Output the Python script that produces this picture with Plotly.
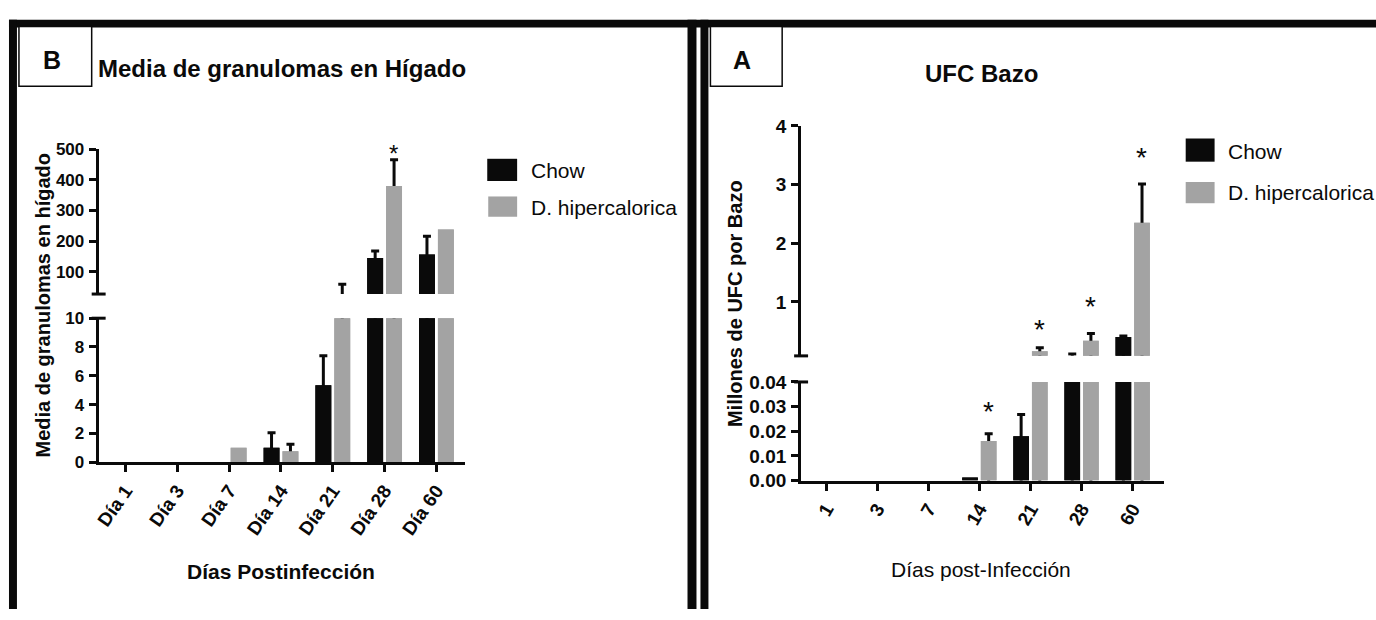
import plotly.graph_objects as go

W, H = 1376, 620


def px(x):
    return x / W


def py(y):
    return 1 - y / H


# ---------------- data ----------------
# Panel B: Media de granulomas en Hígado
liver_days = ["Día 1", "Día 3", "Día 7", "Día 14", "Día 21", "Día 28", "Día 60"]
liver_chow = [0, 0, 0, 1.0, 5.35, 145, 157]
liver_chow_err = [0, 0, 0, 1.05, 2.05, 23, 59]
liver_hiper = [0, 0, 1.0, 0.75, 20, 380, 238]
liver_hiper_err = [0, 0, 0, 0.5, 40, 85, 0]
liver_star_days = ["Día 28"]
liver_star_y = [500]

# Panel A: UFC Bazo (millones)
spleen_days = ["1", "3", "7", "14", "21", "28", "60"]
spleen_chow = [0, 0, 0, 0.0012, 0.018, 0.06, 0.40]
spleen_chow_err = [0, 0, 0, 0, 0.0088, 0.05, 0.02]
spleen_hiper = [0, 0, 0, 0.016, 0.16, 0.34, 2.35]
spleen_hiper_err = [0, 0, 0, 0.003, 0.06, 0.12, 0.66]
spleen_star_days = ["14", "21", "28", "60"]
spleen_star_y = [0.030, 0.62, 1.0, 3.55]

series_names = ["Chow", "D. hipercalorica"]

# ---------------- style ----------------
BLACK = "#0a0a0a"
GRAY = "#a3a3a3"
SANS = "Liberation Sans, Arial, sans-serif"

fig = go.Figure()


def error_traces(x, vals, errs, color, group, xa, yas):
    # one-sided (upward) error bars; the lower end and empty entries are pushed
    # far below the axis range so they are clipped away
    below = 2 * max(v + e for v, e in zip(vals, errs))
    plus = [e if e > 0 else -(v + below) for v, e in zip(vals, errs)]
    minus = [v + below for v in vals]
    for ya in yas:
        fig.add_trace(go.Bar(
            x=x, y=vals, xaxis=xa, yaxis=ya, offsetgroup=group,
            marker=dict(color=color, line=dict(width=0)),
            error_y=dict(type="data", symmetric=False, array=plus, arrayminus=minus,
                         color=BLACK, thickness=3, width=4),
            hoverinfo="skip", showlegend=False))


def cover_traces(x, vals, color, group, xa, yas, name):
    for ya in yas:
        fig.add_trace(go.Bar(
            x=x, y=vals, xaxis=xa, yaxis=ya, offsetgroup=group, name=name,
            marker=dict(color=color, line=dict(width=0)),
            hoverinfo="skip", showlegend=False))


error_traces(liver_days, liver_chow, liver_chow_err, BLACK, "c", "x", ["y", "y2"])
error_traces(liver_days, liver_hiper, liver_hiper_err, GRAY, "h", "x", ["y", "y2"])
error_traces(spleen_days, spleen_chow, spleen_chow_err, BLACK, "c", "x2", ["y3", "y4"])
error_traces(spleen_days, spleen_hiper, spleen_hiper_err, GRAY, "h", "x2", ["y3", "y4"])
cover_traces(liver_days, liver_chow, BLACK, "c", "x", ["y", "y2"], series_names[0])
cover_traces(liver_days, liver_hiper, GRAY, "h", "x", ["y", "y2"], series_names[1])
cover_traces(spleen_days, spleen_chow, BLACK, "c", "x2", ["y3", "y4"], series_names[0])
cover_traces(spleen_days, spleen_hiper, GRAY, "h", "x2", ["y3", "y4"], series_names[1])

axis_common = dict(showline=True, linecolor=BLACK, linewidth=3, ticks="outside",
                   ticklen=7, tickwidth=2.5, tickcolor=BLACK, showgrid=False,
                   zeroline=False, fixedrange=True)
tickfont_y = dict(family=SANS, size=17, color=BLACK, weight="bold")
tickfont_x = dict(family=SANS, size=19, color=BLACK, weight="bold")
tickfont_r = dict(family=SANS, size=19, color=BLACK, weight="bold")

# left panel geometry (pixels)
L_X0, L_X1, L_C0, L_STEP = 94, 462, 121, 52
L_LOW = (468, 319)
L_UP = (294, 144)
L_UP_MIN = 28
# right panel geometry
R_X0, R_X1, R_C0, R_STEP = 799, 1163, 824, 51.3
R_LOW = (487, 385)
R_UP = (358, 120)
R_UP_MIN = 0.08

fig.update_layout(
    width=W, height=H, margin=dict(l=0, r=0, t=0, b=0),
    paper_bgcolor="white", plot_bgcolor="rgba(0,0,0,0)",
    barmode="group", bargap=0.27, bargroupgap=0.16, showlegend=False,
    xaxis=dict(axis_common, type="category", categoryorder="array", categoryarray=liver_days,
               range=[(L_X0 - L_C0) / L_STEP, (L_X1 - L_C0) / L_STEP],
               domain=[px(L_X0), px(L_X1)], anchor="y", tickangle=-55, tickfont=tickfont_x),
    yaxis=dict(axis_common, domain=[py(L_LOW[0]), py(L_LOW[1])], range=[0, 10], dtick=2, tick0=0,
               anchor="x", tickfont=tickfont_y, ticklabelstandoff=1),
    yaxis2=dict(axis_common, domain=[py(L_UP[0]), py(L_UP[1])], range=[L_UP_MIN, 500],
                tickvals=[100, 200, 300, 400, 500], anchor="x", tickfont=tickfont_y,
                ticklabelstandoff=1),
    xaxis2=dict(axis_common, type="category", categoryorder="array", categoryarray=spleen_days,
                range=[(R_X0 - R_C0) / R_STEP, (R_X1 - R_C0) / R_STEP],
                domain=[px(R_X0), px(R_X1)], anchor="y3", tickangle=-60, tickfont=tickfont_r),
    yaxis3=dict(axis_common, domain=[py(R_LOW[0]), py(R_LOW[1])], range=[0, 0.04], dtick=0.01,
                tick0=0, tickformat=".2f", anchor="x2", tickfont=tickfont_r, ticklabelstandoff=1),
    yaxis4=dict(axis_common, domain=[py(R_UP[0]), py(R_UP[1])], range=[R_UP_MIN, 4],
                tickvals=[1, 2, 3, 4], anchor="x2", tickfont=tickfont_r, ticklabelstandoff=1),
)

shapes = []


def rect(x0, y0, x1, y1, fill=BLACK, line=0):
    shapes.append(dict(type="rect", xref="paper", yref="paper",
                       x0=px(x0), x1=px(x1), y0=py(y1), y1=py(y0),
                       fillcolor=fill, line=dict(width=line, color=BLACK), layer="above"))


def hline(x0, x1, y, w=3):
    shapes.append(dict(type="line", xref="paper", yref="paper",
                       x0=px(x0), x1=px(x1), y0=py(y), y1=py(y),
                       line=dict(width=w, color=BLACK), layer="above"))


# frames
rect(4, 10, W, 18)
rect(4, 10, 12, H)
rect(685, 10, 694, H)
rect(698, 10, 706, H)
# label boxes
rect(14, 17, 87, 79, fill="white", line=1.5)
rect(708, 17, 780, 79, fill="white", line=1.5)
# broken-axis caps
hline(L_X0 - 7, L_X0 + 7, L_LOW[1])
hline(L_X0 - 7, L_X0 + 7, L_UP[0])
hline(R_X0 - 7, R_X0 + 7, R_LOW[1])
hline(R_X0 - 7, R_X0 + 7, R_UP[0])
# legend swatches
rect(484, 154, 514, 177, fill=BLACK)
rect(485, 193, 514, 214, fill=GRAY)
rect(1185, 133, 1214, 157, fill=BLACK)
rect(1185, 178, 1214, 200, fill=GRAY)
fig.update_layout(shapes=shapes)

ann = []


def text(x, y, s, size, bold=False, anchor="center", angle=0):
    ann.append(dict(xref="paper", yref="paper", x=px(x), y=py(y), text=s, showarrow=False,
                    xanchor=anchor, yanchor="middle", textangle=angle,
                    font=dict(family=SANS, size=size, color=BLACK,
                              weight="bold" if bold else "normal")))


text(47, 52, "B", 25, bold=True)
text(740, 52, "A", 25, bold=True)
text(278, 61, "Media de granulomas en Hígado", 24, bold=True)
text(980, 66, "UFC Bazo", 24, bold=True)
text(38, 305, "Media de granulomas en hígado", 20, bold=True, angle=-90)
text(732, 304, "Millones de UFC por Bazo", 20, bold=True, angle=-90)
text(277, 581, "Días Postinfección", 21, bold=True)
text(980, 579, "Días post-Infección", 21)
text(526, 166, series_names[0], 21, anchor="left")
text(526, 204, series_names[1], 21, anchor="left")
text(1225, 146, series_names[0], 21, anchor="left")
text(1225, 189, series_names[1], 21, anchor="left")

# significance stars over the D. hipercalorica bars
for d, yv in zip(liver_star_days, liver_star_y):
    ann.append(dict(xref="x", yref="y2", x=liver_days.index(d) + 0.18, y=yv, text="*",
                    showarrow=False, yanchor="middle", yshift=-4,
                    font=dict(family=SANS, size=24, color=BLACK)))
for d, yv in zip(spleen_star_days, spleen_star_y):
    ya = "y3" if yv < 0.04 else "y4"
    ann.append(dict(xref="x2", yref=ya, x=spleen_days.index(d) + 0.18, y=yv, text="*",
                    showarrow=False, yanchor="middle", yshift=-5,
                    font=dict(family=SANS, size=28, color=BLACK)))

fig.update_layout(annotations=ann)

fig.write_html("out.html")
